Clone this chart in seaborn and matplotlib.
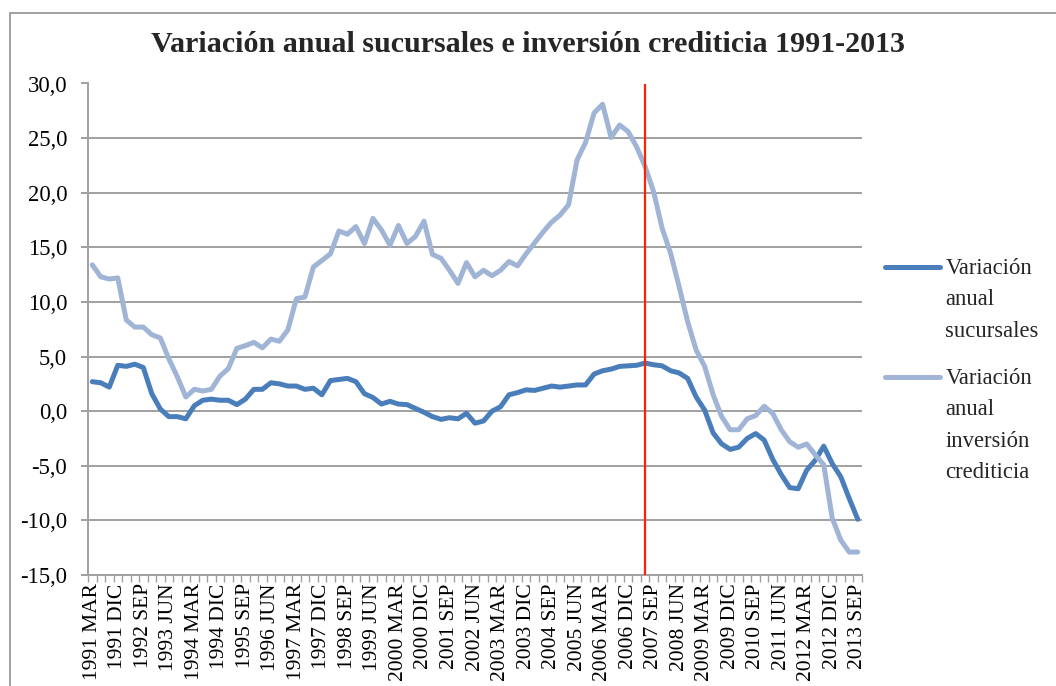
import matplotlib
matplotlib.use("Agg")
import matplotlib.pyplot as plt
import matplotlib.ticker as mticker
from matplotlib.patches import Rectangle
import numpy as np
import pandas as pd
import seaborn as sns

# Quarterly periods, March 1991 to September 2013
meses = ["MAR", "JUN", "SEP", "DIC"]
trimestres = [f"{a} {m}" for a in range(1991, 2014) for m in meses][:91]

# Annual variation (%) of bank branches
sucursales = [
    2.7, 2.6, 2.2, 4.2, 4.1, 4.3, 4.0, 1.6, 0.2, -0.5,
    -0.5, -0.7, 0.5, 1.0, 1.1, 1.0, 1.0, 0.6, 1.1, 2.0,
    2.0, 2.6, 2.5, 2.3, 2.3, 2.0, 2.1, 1.5, 2.8, 2.9,
    3.0, 2.7, 1.6, 1.25, 0.65, 0.9, 0.65, 0.6, 0.25, -0.1,
    -0.5, -0.75, -0.6, -0.7, -0.2, -1.1, -0.9, 0.0, 0.4, 1.5,
    1.7, 1.95, 1.9, 2.1, 2.3, 2.2, 2.3, 2.4, 2.4, 3.4,
    3.7, 3.85, 4.1, 4.15, 4.2, 4.4, 4.25, 4.15, 3.7, 3.5,
    3.0, 1.3, 0.1, -2.0, -3.0, -3.5, -3.3, -2.5, -2.05, -2.65,
    -4.4, -5.8, -7.0, -7.1, -5.4, -4.5, -3.2, -4.8, -6.0, -8.0,
    -9.9,
]

# Annual variation (%) of credit investment
inversion = [
    13.4, 12.3, 12.1, 12.2, 8.35, 7.7, 7.7, 7.0, 6.7, 4.8,
    3.15, 1.3, 2.0, 1.85, 2.0, 3.2, 3.9, 5.75, 6.0, 6.3,
    5.8, 6.6, 6.4, 7.45, 10.3, 10.45, 13.2, 13.8, 14.4, 16.5,
    16.2, 16.9, 15.35, 17.65, 16.6, 15.2, 17.0, 15.35, 16.0, 17.4,
    14.35, 14.0, 12.9, 11.7, 13.6, 12.3, 12.9, 12.4, 12.9, 13.7,
    13.3, 14.4, 15.4, 16.4, 17.3, 17.95, 18.9, 23.0, 24.6, 27.3,
    28.1, 25.05, 26.2, 25.6, 24.2, 22.4, 20.1, 16.75, 14.45, 11.4,
    8.2, 5.6, 4.1, 1.5, -0.5, -1.7, -1.7, -0.7, -0.4, 0.45,
    -0.2, -1.7, -2.8, -3.3, -3.0, -4.0, -4.9, -9.8, -11.8, -12.9,
    -12.9,
]

nombres = ["Variación\nanual\nsucursales", "Variación\nanual\ninversión\ncrediticia"]
colores = ["#4A7EBB", "#A0B4D6"]
corte = "2007 JUN"
titulo = "Variación anual sucursales e inversión crediticia 1991-2013"

pos = np.arange(len(trimestres))
df = pd.concat([
    pd.DataFrame({"pos": pos, "trimestre": trimestres, "valor": sucursales, "serie": nombres[0]}),
    pd.DataFrame({"pos": pos, "trimestre": trimestres, "valor": inversion, "serie": nombres[1]}),
])

sns.set_style("white")
plt.rcParams["font.family"] = ["Liberation Serif", "DejaVu Serif"]

W, H = 1056, 686
fig = plt.figure(figsize=(W / 100, H / 100), dpi=100)
ax = fig.add_axes([88 / W, 1 - 575 / H, (862 - 88) / W, (575 - 83.5) / H])

gris = "#A0A0A0"
sns.lineplot(data=df, x="pos", y="valor", hue="serie", hue_order=nombres,
             palette=colores, linewidth=3.6, estimator=None, sort=False,
             ax=ax, zorder=3)
for ln in ax.lines:
    ln.set_solid_joinstyle("round")
    ln.set_solid_capstyle("round")

# vertical reference line
ax.axvline(trimestres.index(corte), color="#FF2200", lw=1.6, zorder=4)

ax.set_xlim(-0.5, len(trimestres) - 0.5)
ax.set_ylim(-15, 30)
ax.set_yticks(np.arange(-15, 31, 5))
ax.yaxis.set_major_formatter(mticker.FuncFormatter(lambda v, p: f"{v:.1f}".replace(".", ",")))
ax.yaxis.grid(True, color=gris, lw=1.4)
ax.xaxis.grid(False)
ax.set_axisbelow(True)

ax.set_xticks(pos[::3])
ax.set_xticklabels(trimestres[::3], rotation=90, va="top", ha="center")
ax.set_xticks(np.arange(-0.5, len(trimestres), 1), minor=True)
ax.tick_params(axis="x", which="major", length=0, pad=6, labelsize=15.5, colors="black")
ax.tick_params(axis="x", which="minor", length=5, width=1, color=gris, direction="out", bottom=True)
ax.tick_params(axis="y", which="major", length=5, width=1.4, color=gris, direction="out",
               pad=10, labelsize=16.3, labelcolor="black", left=True)
ax.set_xlabel("")
ax.set_ylabel("")

for s in ["top", "right"]:
    ax.spines[s].set_visible(False)
for s in ["left", "bottom"]:
    ax.spines[s].set_color(gris)
    ax.spines[s].set_linewidth(1.4)

fig.text(0.5, 1 - 44 / H, titulo, ha="center", va="center", fontsize=21.6, fontweight="bold")

# legend on the right, each handle level with the first line of its label
handles, labels = ax.get_legend_handles_labels()
ax.get_legend().remove()
leg = fig.legend(handles, labels, loc="upper left", bbox_to_anchor=(885 / W, 1 - 258 / H),
                 frameon=False, fontsize=16.3, handlelength=2.45, handletextpad=0.22,
                 labelspacing=1.15, borderpad=0, borderaxespad=0)
for t in leg.get_texts():
    t.set_linespacing(1.65)
for h in leg.legend_handles:
    h.set_linewidth(3.6)
    h.set_solid_capstyle("round")

fig.canvas.draw()
renderer = fig.canvas.get_renderer()
for h, t in zip(leg.legend_handles, leg.get_texts()):
    top = t.get_window_extent(renderer).y1
    inv = h.get_transform().inverted()
    y_new = inv.transform((0, top - 9))[1]
    h.set_ydata([y_new] * len(h.get_xdata()))

# outer frame of the chart area
fig.add_artist(Rectangle((10 / W, -0.1), 1.2, 1 - 13 / H + 0.1, transform=fig.transFigure,
                         fill=False, edgecolor=gris, linewidth=1.4))

fig.savefig("out.png", dpi=100)
